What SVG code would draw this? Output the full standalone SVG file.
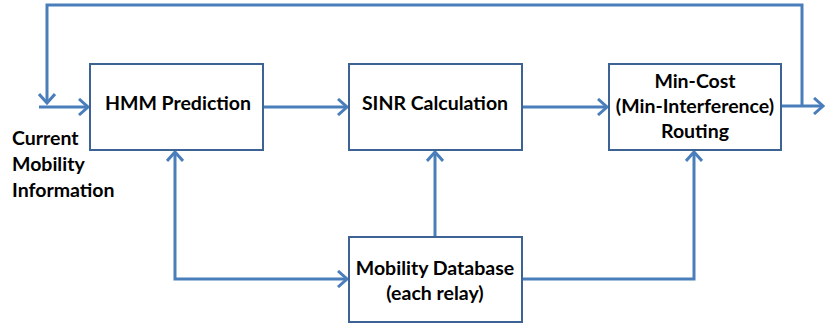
<svg xmlns="http://www.w3.org/2000/svg" width="825" height="324" viewBox="0 0 825 324">
<style>
.box{fill:#fff;stroke:#3d6394;stroke-width:2}
.ln{fill:none;stroke:#4a7ebb;stroke-width:3}
.t{font-family:Lato,"Open Sans",sans-serif;font-weight:bold;font-size:19.5px;fill:#000}
.c{text-anchor:middle}
</style>
<defs>
<marker id="ah" markerUnits="userSpaceOnUse" viewBox="-12 -9 14 18" refX="0" refY="0" markerWidth="14" markerHeight="18" orient="auto-start-reverse">
<path d="M-9,-8 L0,0 L-9,8" fill="none" stroke="#4a7ebb" stroke-width="3"/>
</marker>
</defs>
<g id="connectors">
<path class="ln" d="M39,107 L88,107" marker-end="url(#ah)"/>
<path class="ln" d="M263,107 L347,107" marker-end="url(#ah)"/>
<path class="ln" d="M522,107 L607,107" marker-end="url(#ah)"/>
<path class="ln" d="M782,106 L823,106" marker-end="url(#ah)"/>
<path class="ln" d="M802,106 L802,5 L47,5 L47,103" marker-end="url(#ah)"/>
<path class="ln" d="M175,152 L175,279 L347,279" marker-start="url(#ah)" marker-end="url(#ah)"/>
<path class="ln" d="M435,237 L435,152" marker-end="url(#ah)"/>
<path class="ln" d="M522,279 L694,279 L694,152" marker-end="url(#ah)"/>
</g>
<g id="hmm">
<rect class="box" x="90" y="64" width="173" height="86"/>
<text class="t c" x="178" y="110">HMM Prediction</text>
</g>
<g id="sinr">
<rect class="box" x="349" y="64" width="173" height="86"/>
<text class="t c" x="435" y="110">SINR Calculation</text>
</g>
<g id="routing">
<rect class="box" x="609" y="64" width="172" height="86"/>
<text class="t c" x="695" y="88">Min-Cost</text>
<text class="t c" x="695" y="113">(Min-Interference)</text>
<text class="t c" x="695" y="138">Routing</text>
</g>
<g id="db">
<rect class="box" x="349" y="237" width="173" height="85"/>
<text class="t c" x="435" y="275">Mobility Database</text>
<text class="t c" x="435" y="300">(each relay)</text>
</g>
<g id="input-label">
<text class="t" x="12" y="145">Current</text>
<text class="t" x="12" y="171">Mobility</text>
<text class="t" x="12" y="197">Information</text>
</g>
</svg>
